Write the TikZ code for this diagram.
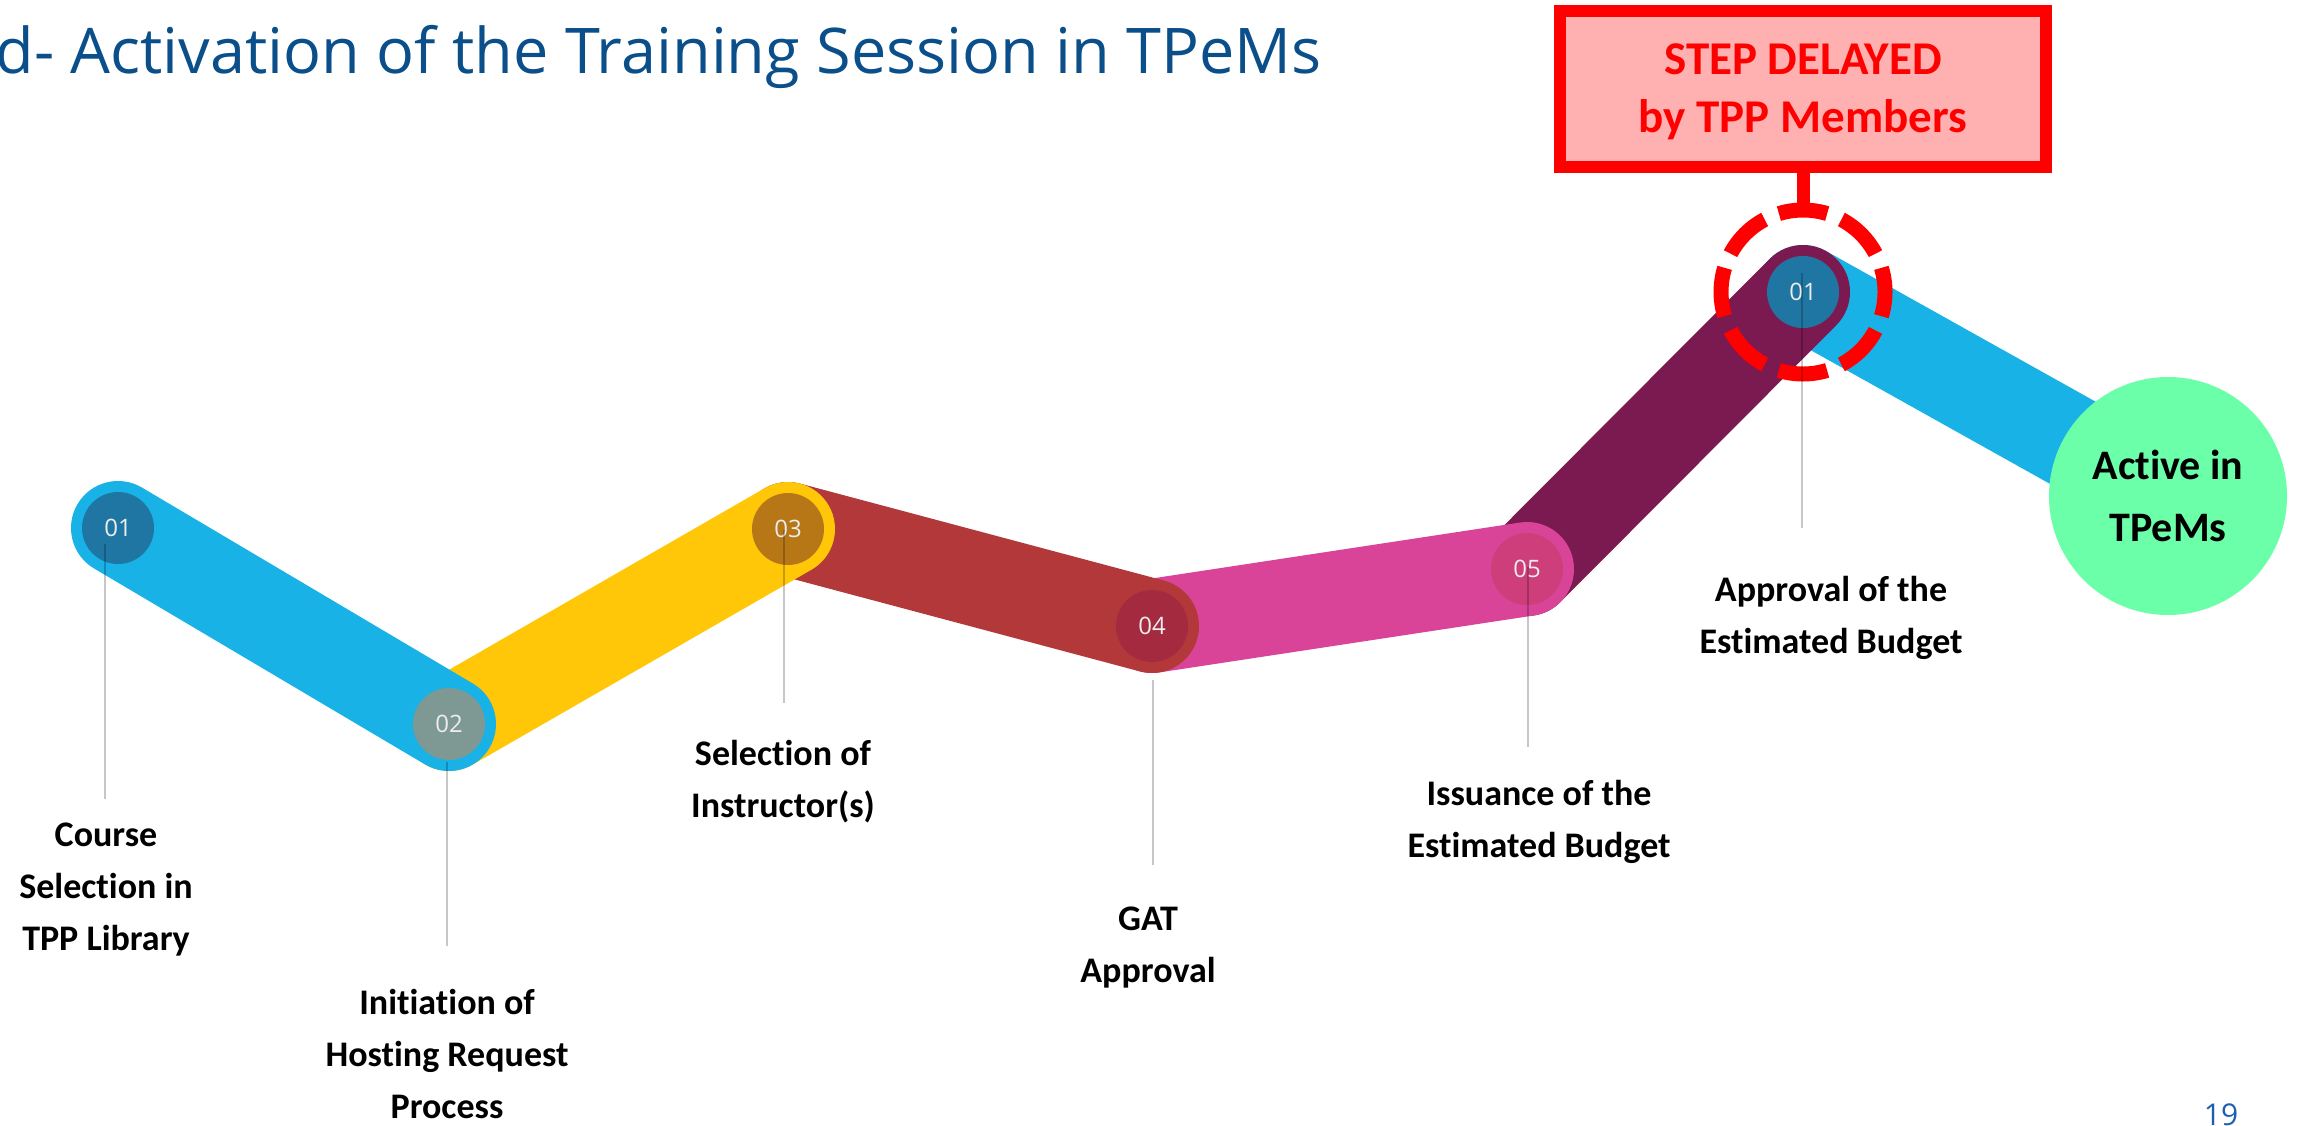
\documentclass[tikz,border=0pt]{standalone}
\usepackage{fontspec}
\setmainfont{Carlito}[Ligatures=NoCommon]
\newfontfamily\thinfont{Open Sans}
\usetikzlibrary{positioning}
\definecolor{mcyan}{RGB}{25,178,230}
\definecolor{myellow}{RGB}{255,199,8}
\definecolor{mbrick}{RGB}{178,56,58}
\definecolor{mpink}{RGB}{218,68,152}
\definecolor{mplum}{RGB}{123,26,80}
\definecolor{mdotblue}{RGB}{31,118,163}
\definecolor{mdotgrey}{RGB}{126,152,147}
\definecolor{mdotgold}{RGB}{184,119,23}
\definecolor{mdotred}{RGB}{164,42,64}
\definecolor{mdotpink}{RGB}{206,62,122}
\definecolor{mgreen}{RGB}{107,255,170}
\definecolor{mboxfill}{RGB}{255,177,177}
\definecolor{mtitle}{RGB}{11,79,138}
\definecolor{mpage}{RGB}{26,95,180}
\tikzset{band/.style = {line width=94pt, line cap=round}}
\tikzset{stepdot/.style = {circle, minimum size=72pt, inner sep=0pt,
                           text=white!93!black,
                           font=\thinfont\fontsize{24}{24}\selectfont}}
\tikzset{lbl/.style = {align=center, anchor=base,
                       font=\fontsize{36}{52}\selectfont\bfseries}}
\tikzset{leader/.style = {draw=black, draw opacity=0.22, line width=1.6pt}}
\tikzset{ring/.style = {circle, draw=red, line width=15pt, minimum size=164pt,
                        inner sep=0pt, dash pattern=on 49pt off 15.4pt,
                        dash phase=24.5pt}}
\tikzset{delaybox/.style = {draw=red, line width=12pt, fill=mboxfill, text=red,
                            minimum width=486pt, minimum height=156pt,
                            inner sep=0pt, align=center, text depth=0pt,
                            font=\fontsize{47}{58}\selectfont\bfseries}}

\begin{document}
\begin{tikzpicture}[x=1pt, y=-1pt]
  \useasboundingbox (0,0) rectangle (2298,1125);
  \coordinate (p1) at (118,528);
  \coordinate (p2) at (449,724);
  \coordinate (p3) at (788,529);
  \coordinate (p4) at (1152,626);
  \coordinate (p5) at (1527,569);
  \coordinate (p6) at (1803,292);
  \coordinate (p7) at (2168,496);

  \draw[band, mcyan] (p6) -- (p7);
  \draw[band, mplum] (p5) -- (p6);
  \draw[band, mpink] (p4) -- (p5);
  \draw[band, mbrick] (p3) -- (p4);
  \draw[band, myellow] (p2) -- (p3);
  \draw[band, mcyan] (p1) -- (p2);

  \foreach \i/\c/\t in {1/mdotblue/01, 2/mdotgrey/02, 3/mdotgold/03,
                        4/mdotred/04, 5/mdotpink/05, 6/mdotblue/01}
    \node[stepdot, fill=\c] (dot\i) at (p\i) {\t};

  \node[circle, fill=mgreen, minimum size=238pt, inner sep=0pt, align=center,
        text depth=0pt, font=\fontsize{42}{62}\selectfont\bfseries]
    (active) at (p7) {Active in\\TPeMs};

  \node[ring] (ring) at (p6) {};
  \node[delaybox, above=30pt of ring] (delay) {STEP DELAYED\\by TPP Members};
  \draw[red, line width=13pt] (delay) -- (ring);

  \foreach \x/\ya/\yb [count=\i] in {105/544/799, 447/762/946, 784/530/703,
                                     1153/680/865, 1528/567/747, 1802/273/528} {
    \coordinate (top\i) at (\x,\ya);
    \coordinate (end\i) at (\x,\yb);
    \draw[leader] (top\i) -- (end\i);
  }

  \node[lbl] (course) at (106,950) {Course\\Selection in\\TPP Library};
  \node[lbl] (hosting) at (447,1118) {Initiation of\\Hosting Request\\Process};
  \node[lbl] (instr) at (783,817) {Selection of\\Instructor(s)};
  \node[lbl] (gat) at (1148,982) {GAT\\Approval};
  \node[lbl] (issue) at (1539,857) {Issuance of the\\Estimated Budget};
  \node[lbl] (approve) at (1831,653) {Approval of the\\Estimated Budget};

  \node[anchor=base east, text=mtitle, font=\thinfont\fontsize{63}{63}\selectfont]
    (title) at (1325,73) {d- Activation of the Training Session in TPeMs};
  \node[anchor=base, text=mpage, font=\thinfont\fontsize{30}{30}\selectfont]
    (page) at (2221,1125) {19};
\end{tikzpicture}
\end{document}
